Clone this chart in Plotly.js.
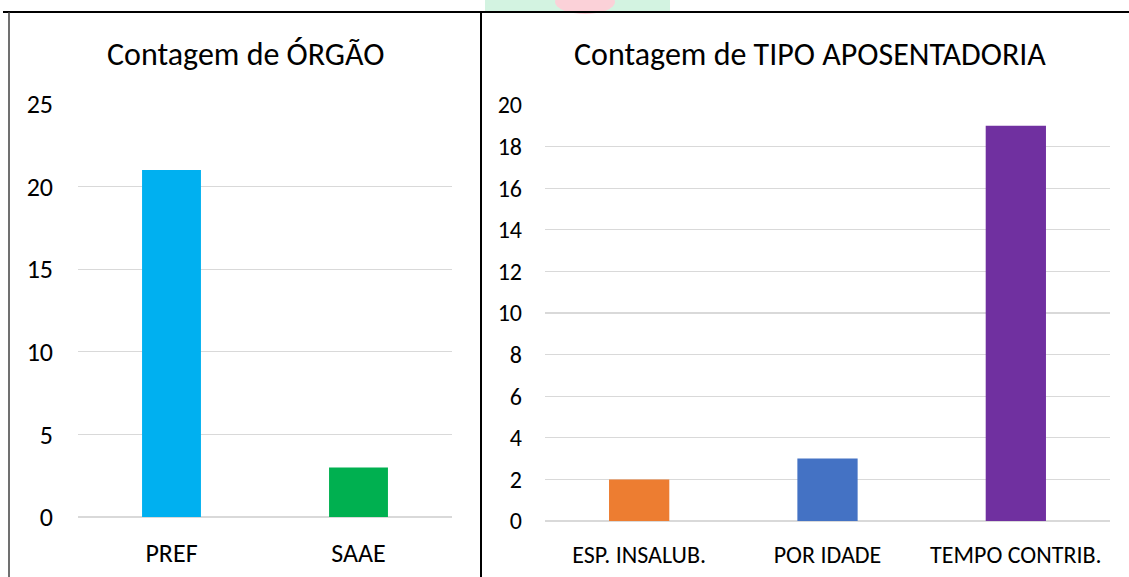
<!DOCTYPE html>
<html><head><meta charset="utf-8">
<script src="https://cdn.plot.ly/plotly-3.0.1.min.js"></script>
<style>html,body{margin:0;padding:0;background:#fff}</style>
</head><body><div id="chart" style="width:1129px;height:577px"></div>
<script>
const orgaoCategories = ["PREF", "SAAE"];
const orgaoCounts = [21, 3];
const orgaoColors = ["#00B0F0", "#00B050"];
const tipoCategories = ["ESP. INSALUB.", "POR IDADE", "TEMPO CONTRIB."];
const tipoCounts = [2, 3, 19];
const tipoColors = ["#ED7D31", "#4472C4", "#7030A0"];
const leftTitle = "Contagem de ÓRGÃO";
const rightTitle = "Contagem de TIPO APOSENTADORIA";

const W = 1129, H = 577;
const FONT = "Carlito, Calibri, 'Open Sans', sans-serif";
const px = v => v / W, py = v => (H - v) / H;

const traces = [
  {type: "bar", x: orgaoCategories, y: orgaoCounts, marker: {color: orgaoColors}, xaxis: "x", yaxis: "y", width: 0.315, hoverinfo: "x+y"},
  {type: "bar", x: tipoCategories, y: tipoCounts, marker: {color: tipoColors}, xaxis: "x2", yaxis: "y2", width: 0.32, hoverinfo: "x+y"}
];

const leftFont = {family: FONT, size: 26, color: "#000"};
const rightFont = {family: FONT, size: 24, color: "#000"};
const layout = {
  width: W, height: H, margin: {l: 0, r: 0, t: 0, b: 0},
  paper_bgcolor: "#fff", plot_bgcolor: "rgba(0,0,0,0)", showlegend: false,
  xaxis: {domain: [px(78), px(452)], anchor: "y", tickfont: leftFont, showgrid: false, zeroline: false, showline: false, ticks: "", ticklabelstandoff: 18},
  yaxis: {domain: [py(517), py(104)], anchor: "x", range: [0, 25], dtick: 5, tickfont: leftFont, gridcolor: "#D9D9D9", gridwidth: 1.3, zeroline: true, zerolinecolor: "#D9D9D9", zerolinewidth: 2, ticks: "", ticklabelstandoff: 24},
  xaxis2: {domain: [px(545), px(1110)], anchor: "y2", tickfont: rightFont, showgrid: false, zeroline: false, showline: false, ticks: "", ticklabelstandoff: 17},
  yaxis2: {domain: [py(521), py(105)], anchor: "x2", range: [0, 20], dtick: 2, tickfont: rightFont, gridcolor: "#D9D9D9", gridwidth: 1.3, zeroline: true, zerolinecolor: "#D9D9D9", zerolinewidth: 2, ticks: "", ticklabelstandoff: 22},
  annotations: [
    {text: leftTitle, xref: "paper", yref: "paper", x: px(245), y: py(55), xanchor: "center", yanchor: "middle", showarrow: false, font: {family: FONT, size: 32, color: "#000"}},
    {text: rightTitle, xref: "paper", yref: "paper", x: px(810), y: py(55), xanchor: "center", yanchor: "middle", showarrow: false, font: {family: FONT, size: 32, color: "#000"}}
  ],
  shapes: [
    {type: "rect", xref: "paper", yref: "paper", x0: px(485), x1: px(670), y0: py(11), y1: 1, fillcolor: "rgba(200,240,218,0.8)", line: {width: 0}, layer: "below"},
    {type: "circle", xref: "paper", yref: "paper", x0: px(555), x1: px(615), y0: py(14), y1: py(-10), fillcolor: "rgba(255,205,215,0.9)", line: {width: 0}, layer: "below"},
    {type: "line", xref: "paper", yref: "paper", x0: px(3), x1: 1, y0: py(12), y1: py(12), line: {color: "#000", width: 2}},
    {type: "line", xref: "paper", yref: "paper", x0: px(9), x1: px(9), y0: py(12), y1: 0, line: {color: "#404040", width: 1.5}},
    {type: "line", xref: "paper", yref: "paper", x0: px(481), x1: px(481), y0: py(12), y1: 0, line: {color: "#000", width: 2}}
  ]
};
Plotly.newPlot("chart", traces, layout, {displayModeBar: false, staticPlot: true});
</script></body></html>
